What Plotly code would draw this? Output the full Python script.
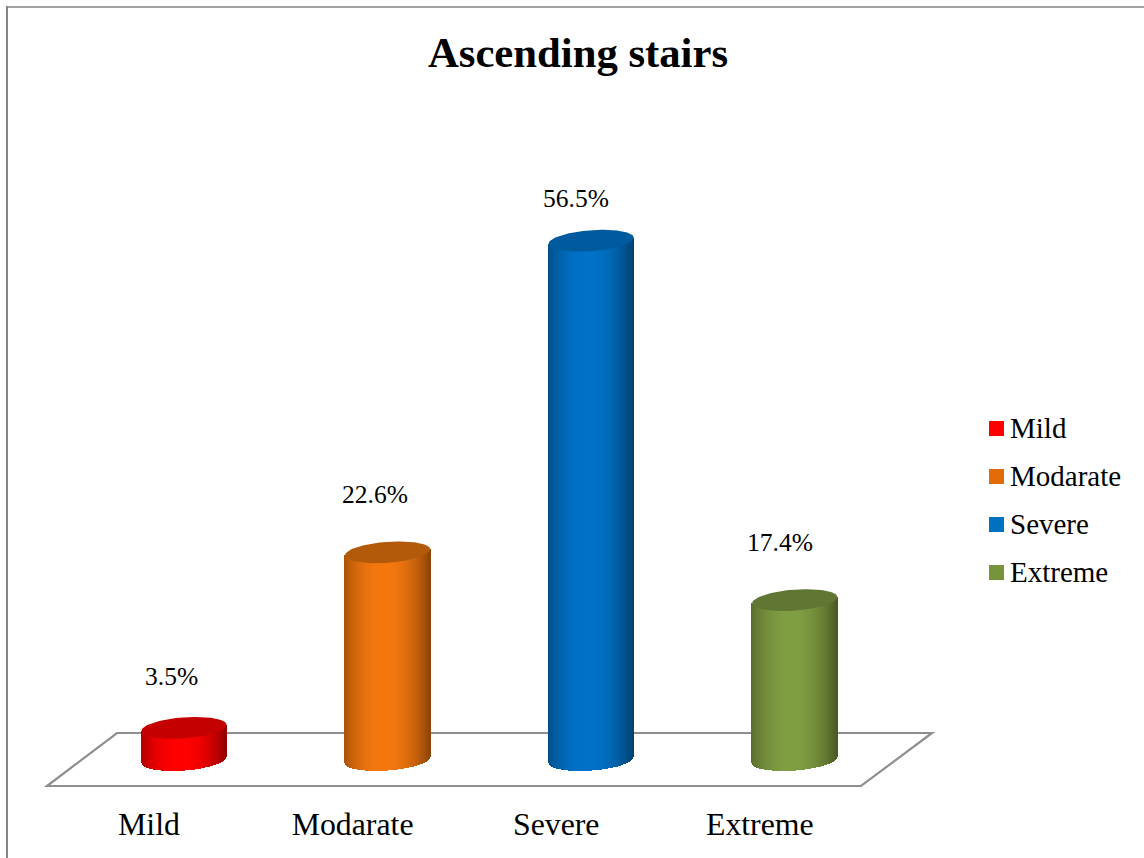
import numpy as np
import plotly.graph_objects as go

# Chart data
categories = ["Mild", "Modarate", "Severe", "Extreme"]
percent_values = [3.5, 22.6, 56.5, 17.4]

# Colours: legend swatch, lit cylinder body, cylinder top
swatch_colors = ["#ff0000", "#e36c0a", "#0070c0", "#77933c"]
body_colors = [(255, 0, 0), (245, 120, 15), (0, 114, 200), (128, 158, 66)]
cap_colors = ["#c40000", "#b35a0a", "#005a9e", "#5f7733"]

# Label nudges in pixels, relative to each cylinder
label_dx = [22.5, 22.5, 19.5, 20.5]
label_dy = [51, 58, 42, 57.5]

W, H = 1144, 858
PLOT_L, PLOT_R, PLOT_T, PLOT_B = 47, 932, 100, 802
TICK0_PX, STEP_PX = 149.0, 203.6
ZERO_PX, UNIT_PX = 760.0, 9.19
DEPTH_PX = 35.0        # cylinders stand this far right of the category ticks
RADIUS_PX = 42.6
CAP_B_PX, CAP_TILT_PX = 10.5, 3.0
LEGEND_X_PX, LEGEND_Y_PX, LEGEND_STEP_PX, SWATCH_PX = 989, 428.5, 48, 15
SERIF = "Liberation Serif, Times New Roman, serif"


def to_paper_x(px):
    return (px - PLOT_L) / (PLOT_R - PLOT_L)


def to_paper_y(py):
    return (PLOT_B - py) / (PLOT_B - PLOT_T)


def shade(rgb, u):
    # Cylinder lighting: brightest just left of centre, darker toward both edges
    t = min(abs(u + 0.08) / 1.08, 1.0)
    k = 1.0 - 0.42 * t ** 2.2
    return "rgb({},{},{})".format(*(int(c * k) for c in rgb))


x_unit = RADIUS_PX / STEP_PX
depth = DEPTH_PX / STEP_PX
fig = go.Figure()

for i, (name, value) in enumerate(zip(categories, percent_values)):
    cx = i + depth

    # Shaded body made of thin vertical slices with a curved foot
    u = np.linspace(-1, 1, 87)
    slice_w = np.full(u.size, 1.3 * (u[1] - u[0]) * x_unit)
    tilt = CAP_TILT_PX * u / UNIT_PX
    sag = CAP_B_PX * np.sqrt(1 - np.clip(u, -0.999, 0.999) ** 2) / UNIT_PX
    foot = tilt - sag
    top = value + tilt
    fig.add_trace(go.Bar(
        x=cx + u * x_unit * 0.99, y=top - foot, base=foot, width=slice_w, name=name,
        marker=dict(color=[shade(body_colors[i], a) for a in u], line=dict(width=0)),
        showlegend=False, hoverinfo="skip",
    ))

    # Elliptical top of the cylinder
    t = np.linspace(0, 2 * np.pi, 90)
    fig.add_trace(go.Scatter(
        x=cx + x_unit * np.cos(t),
        y=value + (CAP_TILT_PX * np.cos(t) + CAP_B_PX * np.sin(t)) / UNIT_PX,
        mode="lines", fill="toself", fillcolor=cap_colors[i],
        line=dict(width=0, color=cap_colors[i]),
        showlegend=False, hoverinfo="skip",
    ))

annotations = [
    dict(x=i, y=v, xref="x", yref="y", text=f"{v}%", showarrow=False,
         xshift=label_dx[i], yshift=label_dy[i],
         font=dict(family=SERIF, size=25.5, color="#000000"))
    for i, v in enumerate(percent_values)
]

# Floor parallelogram and the outer frame's top and left edges
floor_path = [(47, 786), (861, 786), (932, 733), (117, 733)]
path = "M " + " L ".join(f"{to_paper_x(a):.5f},{to_paper_y(b):.5f}" for a, b in floor_path) + " Z"
shapes = [
    dict(type="path", xref="paper", yref="paper", path=path, layer="below",
         line=dict(color="#8f8f8f", width=2.2)),
    dict(type="line", xref="paper", yref="paper", layer="below",
         x0=to_paper_x(7), x1=to_paper_x(7), y0=to_paper_y(6), y1=to_paper_y(H),
         line=dict(color="#868686", width=2)),
    dict(type="line", xref="paper", yref="paper", layer="below",
         x0=to_paper_x(6), x1=to_paper_x(W), y0=to_paper_y(7), y1=to_paper_y(7),
         line=dict(color="#868686", width=1.5)),
]

# Key on the right: one square and one label per category
for i, name in enumerate(categories):
    yc = LEGEND_Y_PX + i * LEGEND_STEP_PX
    shapes.append(dict(
        type="rect", xref="paper", yref="paper", line=dict(width=0),
        fillcolor=swatch_colors[i],
        x0=to_paper_x(LEGEND_X_PX), x1=to_paper_x(LEGEND_X_PX + SWATCH_PX),
        y0=to_paper_y(yc - SWATCH_PX / 2), y1=to_paper_y(yc + SWATCH_PX / 2),
    ))
    annotations.append(dict(
        xref="paper", yref="paper", x=to_paper_x(LEGEND_X_PX + 19), y=to_paper_y(yc - 0.5),
        xanchor="left", yanchor="middle", text=name, showarrow=False,
        font=dict(family=SERIF, size=29, color="#000000"),
    ))

fig.update_layout(
    width=W, height=H, autosize=False, showlegend=False,
    margin=dict(l=PLOT_L, r=W - PLOT_R, t=PLOT_T, b=H - PLOT_B, autoexpand=False, pad=0),
    paper_bgcolor="#ffffff", plot_bgcolor="rgba(0,0,0,0)",
    barmode="overlay", bargap=0,
    title=dict(text="<b>Ascending stairs</b>", xref="container", yref="container",
               x=578 / W, y=1 - 52.5 / H, xanchor="center", yanchor="middle",
               font=dict(family=SERIF, size=42.7, color="#000000")),
    xaxis=dict(range=[(PLOT_L - TICK0_PX) / STEP_PX, (PLOT_R - TICK0_PX) / STEP_PX],
               tickmode="array", tickvals=list(range(len(categories))), ticktext=categories,
               showgrid=False, zeroline=False, showline=False, ticks="",
               tickfont=dict(family=SERIF, size=31.8, color="#000000")),
    yaxis=dict(range=[(ZERO_PX - PLOT_B) / UNIT_PX, (ZERO_PX - PLOT_T) / UNIT_PX],
               visible=False, showgrid=False, zeroline=False),
    annotations=annotations,
    shapes=shapes,
)

fig.write_html("out.html")
